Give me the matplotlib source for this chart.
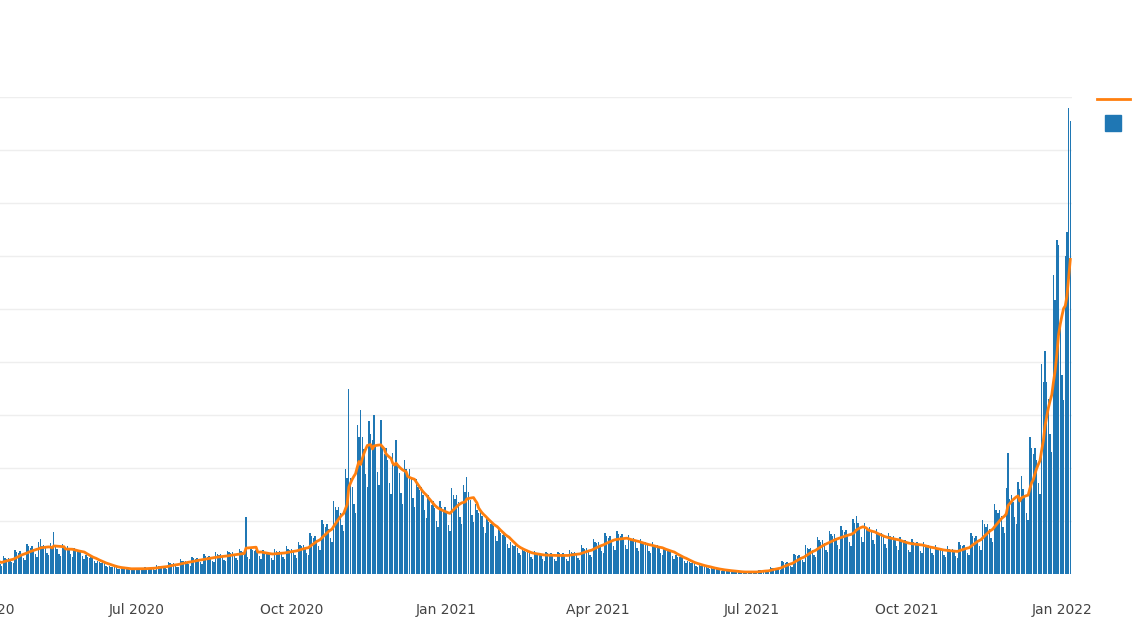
import numpy as np
import pandas as pd
import matplotlib.pyplot as plt
import matplotlib.dates as mdates
from matplotlib.lines import Line2D

# Daily values, one row per week (Monday first), starting 2020-04-06
weeks = [
    [26, 24, 23, 24, 22, 18, 15],
    [34, 31, 29, 31, 28, 22, 20],
    [46, 42, 40, 44, 38, 30, 27],
    [56, 52, 49, 52, 47, 38, 33],
    [60, 66, 52, 55, 50, 40, 35],
    [58, 53, 80, 53, 48, 38, 34],
    [56, 52, 49, 52, 47, 38, 33],
    [50, 46, 44, 46, 42, 34, 29],
    [36, 33, 31, 33, 30, 24, 21],
    [24, 22, 21, 22, 20, 16, 14],
    [16, 14, 14, 14, 13, 10, 9],
    [12, 11, 10, 11, 10, 8, 7],
    [12, 11, 10, 11, 10, 8, 7],
    [13, 12, 12, 12, 11, 9, 8],
    [17, 15, 15, 15, 14, 11, 10],
    [22, 20, 19, 20, 18, 14, 13],
    [28, 25, 24, 25, 23, 18, 16],
    [32, 30, 28, 30, 27, 22, 19],
    [37, 34, 33, 34, 31, 25, 22],
    [41, 37, 36, 37, 34, 27, 24],
    [44, 41, 39, 41, 37, 30, 26],
    [48, 44, 42, 44, 108, 32, 28],
    [50, 46, 44, 46, 42, 34, 29],
    [45, 42, 40, 42, 38, 30, 27],
    [48, 44, 42, 44, 40, 32, 28],
    [53, 48, 46, 48, 44, 35, 31],
    [60, 55, 52, 55, 50, 40, 35],
    [78, 72, 68, 72, 65, 52, 46],
    [102, 94, 89, 94, 85, 68, 60],
    [138, 127, 121, 127, 115, 92, 81],
    [198, 182, 350, 182, 165, 132, 116],
    [282, 259, 310, 259, 235, 188, 165],
    [288, 264, 252, 300, 240, 192, 168],
    [290, 237, 226, 237, 215, 172, 151],
    [228, 209, 253, 209, 190, 152, 133],
    [216, 198, 189, 198, 180, 144, 126],
    [180, 165, 158, 165, 150, 120, 105],
    [150, 138, 131, 138, 125, 100, 88],
    [138, 127, 121, 127, 115, 92, 81],
    [162, 149, 142, 149, 135, 108, 95],
    [168, 154, 183, 154, 140, 112, 98],
    [132, 121, 116, 121, 110, 88, 77],
    [108, 99, 95, 99, 90, 72, 63],
    [84, 77, 74, 77, 70, 56, 49],
    [60, 55, 52, 55, 50, 40, 35],
    [48, 44, 42, 44, 40, 32, 28],
    [43, 40, 38, 40, 36, 29, 25],
    [42, 39, 37, 39, 35, 28, 25],
    [42, 39, 37, 39, 35, 28, 25],
    [46, 42, 40, 42, 38, 30, 27],
    [54, 50, 47, 50, 45, 36, 32],
    [66, 61, 58, 61, 55, 44, 39],
    [78, 72, 68, 72, 65, 52, 46],
    [82, 75, 71, 75, 68, 54, 48],
    [74, 68, 65, 68, 62, 50, 43],
    [66, 61, 58, 61, 55, 44, 39],
    [60, 55, 52, 55, 50, 40, 35],
    [50, 46, 44, 46, 42, 34, 29],
    [36, 33, 32, 33, 30, 24, 21],
    [24, 22, 21, 22, 20, 16, 14],
    [17, 15, 15, 15, 14, 11, 10],
    [11, 10, 9, 10, 9, 7, 6],
    [7, 7, 6, 7, 6, 5, 4],
    [5, 4, 4, 4, 4, 3, 3],
    [5, 4, 4, 4, 4, 3, 3],
    [7, 7, 6, 7, 6, 5, 4],
    [13, 12, 12, 12, 11, 9, 8],
    [24, 22, 21, 22, 20, 16, 14],
    [38, 35, 34, 35, 32, 26, 22],
    [54, 50, 47, 50, 45, 36, 32],
    [70, 64, 61, 64, 58, 46, 41],
    [82, 75, 71, 75, 68, 54, 48],
    [90, 83, 79, 83, 75, 60, 53],
    [104, 96, 110, 96, 87, 70, 61],
    [96, 88, 84, 88, 80, 64, 56],
    [84, 77, 74, 77, 70, 56, 49],
    [78, 72, 68, 72, 65, 52, 46],
    [70, 64, 61, 64, 58, 46, 41],
    [66, 61, 58, 61, 55, 44, 39],
    [60, 55, 52, 55, 50, 40, 35],
    [54, 50, 47, 50, 45, 36, 32],
    [52, 47, 45, 47, 43, 34, 30],
    [60, 55, 52, 55, 50, 40, 35],
    [78, 72, 68, 72, 65, 52, 46],
    [102, 94, 89, 94, 85, 68, 60],
    [132, 121, 116, 121, 110, 88, 77],
    [162, 228, 142, 149, 135, 108, 95],
    [174, 160, 185, 160, 145, 116, 102],
    [258, 237, 226, 237, 215, 172, 151],
    [396, 363, 420, 363, 330, 264, 231],
    [564, 517, 630, 620, 470, 376, 329],
    [600, 645, 880, 855],
]

daily = [v for w in weeks for v in w]
dates = pd.date_range("2020-04-06", periods=len(daily), freq="D")
s = pd.Series(daily, index=dates)
avg = s.rolling(7, min_periods=1).mean()

fig = plt.figure(figsize=(11.4, 6.41), dpi=100)
ax = fig.add_axes([-17 / 1140, 1 - 574 / 641, 1089 / 1140, (574 - 97) / 641])

ax.bar(dates, s.values, width=0.8, color="#1f77b4", zorder=2)
ax.plot(dates, avg.values, color="#ff7f0e", lw=2, zorder=3)

ax.set_xlim(pd.Timestamp("2020-04-01"), pd.Timestamp("2022-01-07"))
ax.set_ylim(0, 900)
ax.set_yticks(np.arange(0, 901, 100))
ax.yaxis.grid(True, color="#eeeeee", lw=1, zorder=0)
ax.tick_params(axis="y", left=False, labelleft=False)
ax.tick_params(axis="x", length=0, pad=21, labelsize=10, labelcolor="#444444")
ax.xaxis.set_major_locator(mdates.MonthLocator(bymonth=[1, 4, 7, 10]))
ax.xaxis.set_major_formatter(mdates.DateFormatter("%b %Y"))
for sp in ax.spines.values():
    sp.set_visible(False)

h_line = Line2D([], [], color="#ff7f0e", lw=2)
h_bar = Line2D([], [], color="#1f77b4", marker="s", markersize=11, lw=0)
fig.legend([h_line, h_bar], ["Cases (7-day average)", "Daily cases"], loc="upper left",
           bbox_to_anchor=(1084 / 1140, 1 - 80 / 641),
           frameon=False, fontsize=10, handlelength=2.4, labelspacing=0.75)

fig.savefig("out.png", dpi=100)
